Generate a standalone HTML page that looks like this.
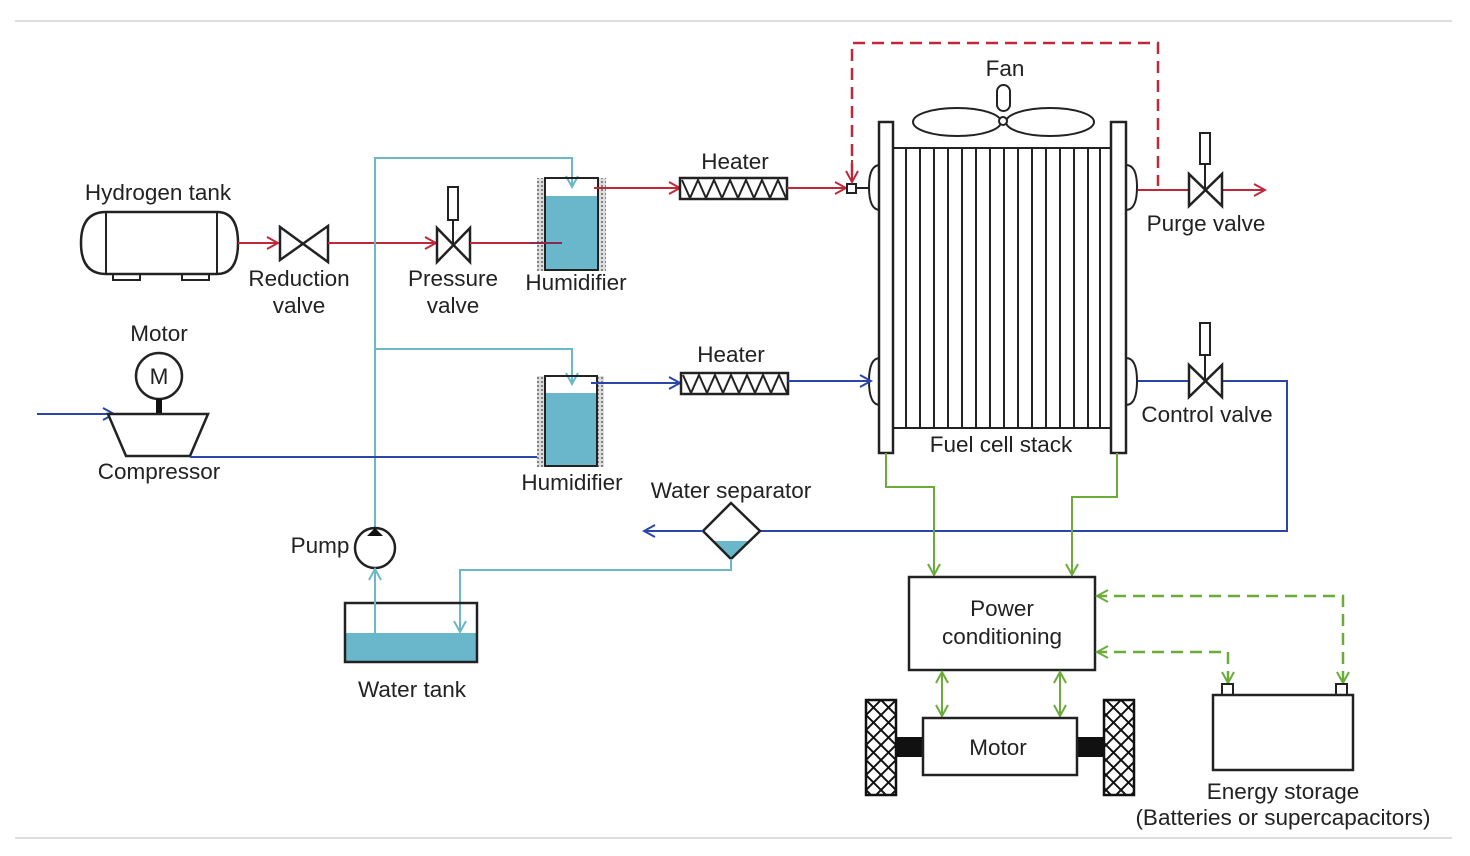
<!DOCTYPE html>
<html><head><meta charset="utf-8"><style>
html,body{margin:0;padding:0;background:#fff;}
svg{display:block}
text{font-family:"Liberation Sans",Arial,sans-serif;font-size:22.5px;fill:#222;text-anchor:middle;}
</style></head><body>
<svg width="1470" height="856" viewBox="0 0 1470 856" xmlns="http://www.w3.org/2000/svg">
<defs>
<marker id="ar" markerWidth="14" markerHeight="14" refX="12" refY="7" orient="auto" markerUnits="userSpaceOnUse"><path d="M1,1 L12,7 L1,13" fill="none" stroke="#c0283a" stroke-width="2"/></marker>
<marker id="ab" markerWidth="14" markerHeight="14" refX="12" refY="7" orient="auto" markerUnits="userSpaceOnUse"><path d="M1,1 L12,7 L1,13" fill="none" stroke="#2a46a8" stroke-width="2"/></marker>
<marker id="ac" markerWidth="14" markerHeight="14" refX="12" refY="7" orient="auto" markerUnits="userSpaceOnUse"><path d="M1,1 L12,7 L1,13" fill="none" stroke="#6bb8c8" stroke-width="2"/></marker>
<marker id="ag" markerWidth="14" markerHeight="14" refX="12" refY="7" orient="auto-start-reverse" markerUnits="userSpaceOnUse"><path d="M1,1 L12,7 L1,13" fill="none" stroke="#6aac3a" stroke-width="2"/></marker>
<pattern id="hatch" width="4" height="4" patternUnits="userSpaceOnUse"><rect width="4" height="4" fill="#ddd"/><circle cx="2" cy="2" r="1" fill="#666"/></pattern>
<pattern id="xh" width="15" height="15" patternUnits="userSpaceOnUse" x="866" y="700"><path d="M0,0 L15,15 M15,0 L0,15" stroke="#111" stroke-width="2"/></pattern>
</defs>
<line x1="15" y1="21" x2="1452" y2="21" stroke="#ddd" stroke-width="2"/>
<line x1="15" y1="838" x2="1452" y2="838" stroke="#ddd" stroke-width="2"/>

<!-- Hydrogen tank -->
<rect x="113" y="272" width="27" height="8" fill="#fff" stroke="#222" stroke-width="2"/>
<rect x="182" y="272" width="27" height="8" fill="#fff" stroke="#222" stroke-width="2"/>
<path d="M106,212 L217,212 Q238,212 238,243 Q238,274 217,274 L106,274 Q81,274 81,243 Q81,212 106,212 Z" fill="#fff" stroke="#222" stroke-width="2.5"/>
<line x1="106" y1="212" x2="106" y2="274" stroke="#222" stroke-width="2"/>
<line x1="217" y1="212" x2="217" y2="274" stroke="#222" stroke-width="2"/>
<text x="158" y="200">Hydrogen tank</text>

<line x1="238" y1="243" x2="278" y2="243" stroke="#c0283a" stroke-width="2" marker-end="url(#ar)"/>
<path d="M280,227 L280,260 L328,226 L328,262 Z" fill="#fff" stroke="#222" stroke-width="2.5"/>
<text x="299" y="286">Reduction</text><text x="299" y="313">valve</text>
<line x1="328" y1="243" x2="436" y2="243" stroke="#c0283a" stroke-width="2" marker-end="url(#ar)"/>
<path d="M437,228 L437,262 L470,228 L470,262 Z" fill="#fff" stroke="#222" stroke-width="2.5"/>
<line x1="453" y1="220" x2="453" y2="245" stroke="#222" stroke-width="2"/>
<rect x="448" y="187" width="10" height="33" fill="#fff" stroke="#222" stroke-width="2"/>
<text x="453" y="286">Pressure</text><text x="453" y="313">valve</text>
<line x1="470" y1="243" x2="562" y2="243" stroke="#c0283a" stroke-width="2"/>

<polyline points="375,528 375,158 572,158 572,187" fill="none" stroke="#6bb8c8" stroke-width="2" marker-end="url(#ac)"/>
<polyline points="375,349 572,349 572,384" fill="none" stroke="#6bb8c8" stroke-width="2" marker-end="url(#ac)"/>

<rect x="537" y="178" width="8" height="93" fill="url(#hatch)"/>
<rect x="598" y="178" width="8" height="93" fill="url(#hatch)"/>
<rect x="545" y="196" width="53" height="73" fill="#6ab7cc"/>
<rect x="545" y="178" width="53" height="92" fill="none" stroke="#222" stroke-width="2"/>
<line x1="530" y1="243" x2="562" y2="243" stroke="#8a2a50" stroke-width="2"/>
<text x="576" y="290">Humidifier</text>
<line x1="594" y1="188" x2="680" y2="188" stroke="#c0283a" stroke-width="2" marker-end="url(#ar)"/>

<rect x="680" y="178" width="107" height="21" fill="#fff" stroke="#222" stroke-width="2.5"/>
<polyline points="682,180 690,198 698,180 706,198 714,180 722,198 730,180 738,198 746,180 754,198 762,180 770,198 778,180 786,198" fill="none" stroke="#222" stroke-width="2"/>
<text x="735" y="169">Heater</text>
<line x1="787" y1="188" x2="846" y2="188" stroke="#c0283a" stroke-width="2" marker-end="url(#ar)"/>
<rect x="847" y="184" width="9" height="9" fill="#fff" stroke="#222" stroke-width="2"/>
<line x1="856" y1="188" x2="876" y2="188" stroke="#222" stroke-width="2"/>
<polyline points="852,175 852,43 1158,43 1158,186" fill="none" stroke="#c0283a" stroke-width="2.5" stroke-dasharray="12,7"/>
<line x1="852" y1="160" x2="852" y2="182" stroke="#c0283a" stroke-width="2" marker-end="url(#ar)"/>

<path d="M880,165 Q869,165 869,187 Q869,210 880,210" fill="#fff" stroke="#222" stroke-width="2"/>
<path d="M880,358 Q869,358 869,381 Q869,405 880,405" fill="#fff" stroke="#222" stroke-width="2"/>
<path d="M1126,165 Q1137,165 1137,187 Q1137,210 1126,210" fill="#fff" stroke="#222" stroke-width="2"/>
<path d="M1126,358 Q1137,358 1137,381 Q1137,405 1126,405" fill="#fff" stroke="#222" stroke-width="2"/>
<rect x="893" y="148" width="218" height="280" fill="#fff" stroke="#222" stroke-width="2"/>
<g stroke="#222" stroke-width="2">
<line x1="906" y1="148" x2="906" y2="428"/><line x1="920" y1="148" x2="920" y2="428"/><line x1="934" y1="148" x2="934" y2="428"/><line x1="948" y1="148" x2="948" y2="428"/><line x1="962" y1="148" x2="962" y2="428"/><line x1="976" y1="148" x2="976" y2="428"/><line x1="990" y1="148" x2="990" y2="428"/><line x1="1004" y1="148" x2="1004" y2="428"/><line x1="1018" y1="148" x2="1018" y2="428"/><line x1="1032" y1="148" x2="1032" y2="428"/><line x1="1046" y1="148" x2="1046" y2="428"/><line x1="1060" y1="148" x2="1060" y2="428"/><line x1="1074" y1="148" x2="1074" y2="428"/><line x1="1088" y1="148" x2="1088" y2="428"/><line x1="1100" y1="148" x2="1100" y2="428"/>
</g>
<rect x="879" y="122" width="14" height="331" fill="#fff" stroke="#222" stroke-width="2.5"/>
<rect x="1111" y="122" width="15" height="331" fill="#fff" stroke="#222" stroke-width="2.5"/>
<text x="1001" y="452">Fuel cell stack</text>
<ellipse cx="957" cy="122" rx="44" ry="14" fill="#fff" stroke="#222" stroke-width="2"/>
<ellipse cx="1050" cy="122" rx="44" ry="14" fill="#fff" stroke="#222" stroke-width="2"/>
<rect x="997" y="85" width="13" height="26" rx="6.5" fill="#fff" stroke="#222" stroke-width="2"/>
<circle cx="1003" cy="121" r="4" fill="#fff" stroke="#222" stroke-width="2"/>
<text x="1005" y="76">Fan</text>

<line x1="1138" y1="190" x2="1265" y2="190" stroke="#c0283a" stroke-width="2" marker-end="url(#ar)"/>
<path d="M1189,174 L1189,206 L1222,174 L1222,206 Z" fill="#fff" stroke="#222" stroke-width="2.5"/>
<line x1="1205" y1="164" x2="1205" y2="190" stroke="#222" stroke-width="2"/>
<rect x="1200" y="133" width="10" height="31" fill="#fff" stroke="#222" stroke-width="2"/>
<text x="1206" y="231">Purge valve</text>

<line x1="37" y1="414" x2="114" y2="414" stroke="#2a46a8" stroke-width="2" marker-end="url(#ab)"/>
<circle cx="159" cy="376" r="23" fill="#fff" stroke="#222" stroke-width="2.5"/>
<text x="159" y="384">M</text>
<rect x="156" y="399" width="6" height="16" fill="#111"/>
<path d="M108,414 L208,414 L190,456 L126,456 Z" fill="#fff" stroke="#222" stroke-width="2.5"/>
<text x="159" y="341">Motor</text>
<text x="159" y="479">Compressor</text>
<line x1="190" y1="457" x2="562" y2="457" stroke="#2a46a8" stroke-width="2"/>

<rect x="537" y="376" width="8" height="91" fill="url(#hatch)"/>
<rect x="597" y="376" width="7" height="91" fill="url(#hatch)"/>
<rect x="545" y="393" width="52" height="72" fill="#6ab7cc"/>
<rect x="545" y="376" width="52" height="90" fill="none" stroke="#222" stroke-width="2"/>
<text x="572" y="490">Humidifier</text>
<line x1="591" y1="383" x2="680" y2="383" stroke="#2a46a8" stroke-width="2" marker-end="url(#ab)"/>
<rect x="681" y="373" width="107" height="21" fill="#fff" stroke="#222" stroke-width="2.5"/>
<polyline points="683,375 691,393 699,375 707,393 715,375 723,393 731,375 739,393 747,375 755,393 763,375 771,393 779,375 787,393" fill="none" stroke="#222" stroke-width="2"/>
<text x="731" y="362">Heater</text>
<line x1="788" y1="381" x2="871" y2="381" stroke="#2a46a8" stroke-width="2" marker-end="url(#ab)"/>

<polyline points="1138,381 1287,381 1287,531 760,531" fill="none" stroke="#2a46a8" stroke-width="2"/>
<path d="M1189,365 L1189,397 L1222,365 L1222,397 Z" fill="#fff" stroke="#222" stroke-width="2.5"/>
<line x1="1205" y1="355" x2="1205" y2="381" stroke="#222" stroke-width="2"/>
<rect x="1200" y="323" width="10" height="32" fill="#fff" stroke="#222" stroke-width="2"/>
<text x="1207" y="422">Control valve</text>

<path d="M713,541 L749,541 L731,559 Z" fill="#6ab7cc"/>
<path d="M731,503 L760,531 L731,559 L703,531 Z" fill="none" stroke="#222" stroke-width="2.5"/>
<line x1="703" y1="531" x2="644" y2="531" stroke="#2a46a8" stroke-width="2" marker-end="url(#ab)"/>
<text x="731" y="498">Water separator</text>
<polyline points="731,559 731,570 460,570 460,632" fill="none" stroke="#6bb8c8" stroke-width="2" marker-end="url(#ac)"/>

<circle cx="375" cy="548" r="20" fill="#fff" stroke="#222" stroke-width="2.5"/>
<path d="M367,536 L383,536 L375,528 Z" fill="#111"/>
<text x="320" y="553">Pump</text>
<rect x="345" y="633" width="132" height="29" fill="#6ab7cc"/>
<rect x="345" y="603" width="132" height="59" fill="none" stroke="#222" stroke-width="2.5"/>
<line x1="375" y1="633" x2="375" y2="569" stroke="#6bb8c8" stroke-width="2" marker-end="url(#ac)"/>
<text x="412" y="697">Water tank</text>

<polyline points="886,453 886,487 934,487 934,575" fill="none" stroke="#6aac3a" stroke-width="2" marker-end="url(#ag)"/>
<polyline points="1117,453 1117,497 1072,497 1072,575" fill="none" stroke="#6aac3a" stroke-width="2" marker-end="url(#ag)"/>
<rect x="909" y="577" width="186" height="93" fill="#fff" stroke="#222" stroke-width="2.5"/>
<text x="1002" y="616">Power</text><text x="1002" y="644">conditioning</text>
<polyline points="1343,683 1343,596 1097,596" fill="none" stroke="#6aac3a" stroke-width="2.5" stroke-dasharray="12,7" marker-start="url(#ag)" marker-end="url(#ag)"/>
<polyline points="1228,683 1228,652 1097,652" fill="none" stroke="#6aac3a" stroke-width="2.5" stroke-dasharray="12,7" marker-start="url(#ag)" marker-end="url(#ag)"/>
<line x1="942" y1="672" x2="942" y2="716" stroke="#6aac3a" stroke-width="2" marker-start="url(#ag)" marker-end="url(#ag)"/>
<line x1="1060" y1="672" x2="1060" y2="716" stroke="#6aac3a" stroke-width="2" marker-start="url(#ag)" marker-end="url(#ag)"/>

<rect x="1222" y="684" width="11" height="11" fill="#fff" stroke="#222" stroke-width="2"/>
<rect x="1336" y="684" width="11" height="11" fill="#fff" stroke="#222" stroke-width="2"/>
<rect x="1213" y="695" width="140" height="75" fill="#fff" stroke="#222" stroke-width="2.5"/>
<text x="1283" y="799">Energy storage</text>
<text x="1283" y="825">(Batteries or supercapacitors)</text>

<rect x="897" y="737" width="26" height="20" fill="#111"/>
<rect x="1077" y="737" width="26" height="20" fill="#111"/>
<rect x="866" y="700" width="30" height="95" fill="url(#xh)" stroke="#111" stroke-width="2.5"/>
<rect x="1104" y="700" width="30" height="95" fill="url(#xh)" stroke="#111" stroke-width="2.5"/>
<rect x="923" y="718" width="154" height="57" fill="#fff" stroke="#222" stroke-width="2.5"/>
<text x="998" y="755">Motor</text>
</svg>
</body></html>
